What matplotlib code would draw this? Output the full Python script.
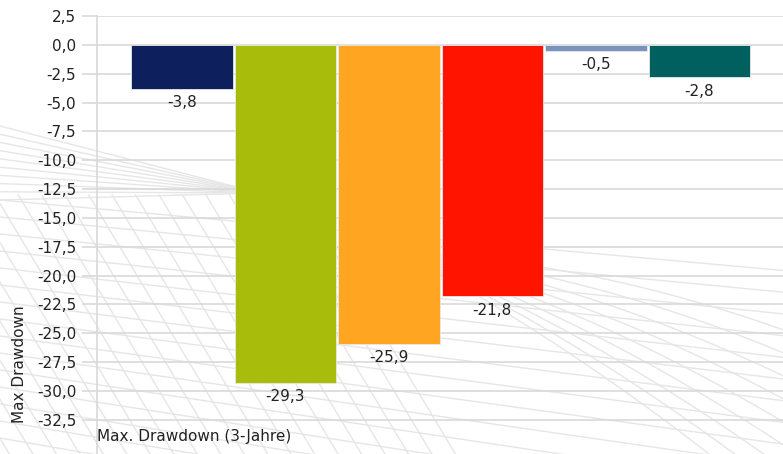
import numpy as np
import matplotlib
matplotlib.use("Agg")
import matplotlib.pyplot as plt
from matplotlib.ticker import FixedLocator, FuncFormatter

# Series data
series = ["Serie 1", "Serie 2", "Serie 3", "Serie 4", "Serie 5", "Serie 6"]
values = [-3.8, -29.3, -25.9, -21.8, -0.5, -2.8]
colors = ["#0D1F5C", "#A8BC0B", "#FFA521", "#FF1400", "#7A93BC", "#00605F"]
category = "Max. Drawdown (3-Jahre)"
y_ticks = [2.5, 0.0, -2.5, -5.0, -7.5, -10.0, -12.5, -15.0, -17.5, -20.0,
           -22.5, -25.0, -27.5, -30.0, -32.5]

W, H = 783, 454
fig = plt.figure(figsize=(W / 100, H / 100), dpi=100)
fig.patch.set_facecolor("white")

# Decorative wire-mesh backdrop (pixel coordinates, origin top-left)
bg = fig.add_axes([0, 0, 1, 1], zorder=0)
bg.set_xlim(0, W)
bg.set_ylim(H, 0)
bg.axis("off")
mesh = dict(color="#e6e6e6", lw=1.0, zorder=0)

# fan converging towards the middle-left
for y0 in np.linspace(126, 200, 10):
    bg.plot([0, 260], [y0, 193], **mesh)
# sweeping near-horizontal curves across the lower half
xs = np.linspace(0, W, 120)
for k in range(16):
    y_left = 200 + 17 * k
    bg.plot(xs, y_left + (0.09 + 0.006 * k) * xs, **mesh)
# steep diagonals lower left
for xt in np.linspace(-240, 300, 24):
    yt = 195
    bg.plot([xt, xt + 0.6 * (H - yt)], [yt, H], **mesh)
# diverging curves on the right
dx = np.linspace(0, 400, 80)
for k in range(9):
    slope = 0.05 + 0.06 * k
    bg.plot(400 + dx, 252 + slope * dx + 0.0004 * dx ** 2, **mesh)

ax = fig.add_axes([97 / W, 0, 1 - 97 / W, (H - 16) / H], zorder=1)
ax.patch.set_alpha(0)

px_per_unit = (420 - 45) / 32.5
ax.set_ylim(2.5 - (H - 16) / px_per_unit, 2.5)
ax.set_xlim(0, 686)

ax.yaxis.set_major_locator(FixedLocator(y_ticks))
ax.yaxis.set_major_formatter(FuncFormatter(lambda v, p: f"{v:.1f}".replace(".", ",")))
ax.grid(axis="y", color="#d9d9d9", lw=1.2)
ax.set_axisbelow(True)
ax.tick_params(axis="y", length=11, width=1.2, color="#d9d9d9", labelsize=11,
               labelcolor="#222222", pad=4)
ax.tick_params(axis="x", length=0, labelbottom=False)
for side in ["top", "right", "bottom"]:
    ax.spines[side].set_visible(False)
ax.spines["left"].set_color("#d9d9d9")
ax.spines["left"].set_linewidth(1.2)

bar_w = 103.5
start = 33
for i, (v, c) in enumerate(zip(values, colors)):
    xc = start + bar_w * i + bar_w / 2
    ax.bar(xc, v, width=bar_w - 2, color=c, edgecolor="#e8e8e8", linewidth=0.6,
           zorder=3)
    ax.annotate(f"{v:.1f}".replace(".", ","), xy=(xc, v), xytext=(0, -14),
                textcoords="offset pixels",
                ha="center", va="center", fontsize=11, color="#222222", zorder=4)

fig.text(97 / W, 1 - 437 / H, category, ha="left", va="center", fontsize=11,
         color="#222222")
fig.text(20 / W, 1 - 423 / H, "Max Drawdown", rotation=90, ha="center",
         va="bottom", fontsize=11, color="#222222")

fig.savefig("out.png", dpi=100, facecolor="white")
